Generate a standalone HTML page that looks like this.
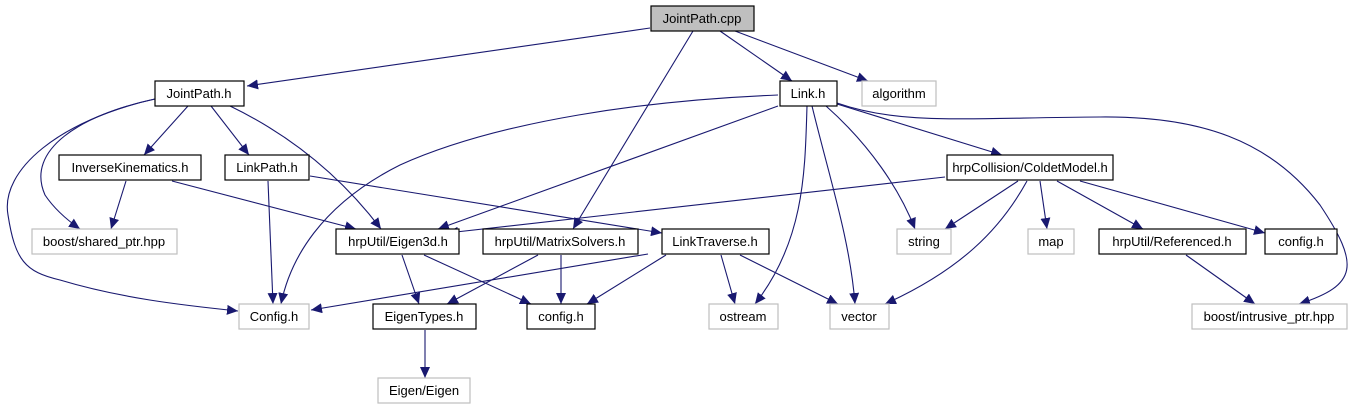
<!DOCTYPE html>
<html><head><meta charset="utf-8"><style>
html,body{margin:0;padding:0;background:#fff;}
svg{display:block;}
text{font-family:"Liberation Sans",sans-serif;font-size:13px;text-anchor:middle;fill:#000;}
.n{fill:#fff;stroke:#000;stroke-width:1.2;}
.g{fill:#fff;stroke:#bfbfbf;stroke-width:1.2;}
.e{fill:none;stroke:#191970;stroke-width:1.1;marker-end:url(#a);}
</style></head><body>
<svg width="1356" height="411" viewBox="0 0 1356 411" xmlns="http://www.w3.org/2000/svg">
<defs><marker id="a" markerUnits="userSpaceOnUse" markerWidth="12" markerHeight="10" refX="11" refY="5" orient="auto"><path d="M0,0 L11,5 L0,10 z" fill="#191970"/></marker></defs>
<path class="e" d="M650,28 L247,86"/>
<path class="e" d="M693,31 L573,229"/>
<path class="e" d="M720,31 L792,81"/>
<path class="e" d="M735,31 L868,81"/>
<path class="e" d="M188,106 L144,155"/>
<path class="e" d="M211,106 L249,155"/>
<path class="e" d="M230,106 C290,135 340,175 381,229"/>
<path class="e" d="M155,99 C80,115 25,150 45,195 C55,210 70,222 80,229"/>
<path class="e" d="M155,99 C60,120 0,170 8,215 C15,260 25,272 60,280 C120,298 180,305 238,311"/>
<path class="e" d="M126,181 L111,229"/>
<path class="e" d="M172,181 L356,229"/>
<path class="e" d="M268,181 L273,304"/>
<path class="e" d="M310,176 L662,233"/>
<path class="e" d="M778,95 C650,100 500,120 400,165 C320,205 290,260 281,304"/>
<path class="e" d="M778,106 L438,229"/>
<path class="e" d="M807,106 C805,170 805,240 755,304"/>
<path class="e" d="M812,106 C830,180 850,240 855,304"/>
<path class="e" d="M826,106 C870,145 900,190 915,229"/>
<path class="e" d="M837,104 L1002,155"/>
<path class="e" d="M837,103 C900,125 960,118 1100,117 C1200,116 1270,140 1320,205 C1360,265 1358,285 1299,304"/>
<path class="e" d="M945,177 L447,233"/>
<path class="e" d="M1018,181 L945,229"/>
<path class="e" d="M1027,181 C1000,230 960,270 885,304"/>
<path class="e" d="M1040,181 L1047,229"/>
<path class="e" d="M1057,181 L1143,229"/>
<path class="e" d="M1080,181 L1265,233"/>
<path class="e" d="M1186,255 L1255,304"/>
<path class="e" d="M402,255 L419,304"/>
<path class="e" d="M424,255 L531,304"/>
<path class="e" d="M538,255 L447,304"/>
<path class="e" d="M561,255 L561,304"/>
<path class="e" d="M648,254 L311,310"/>
<path class="e" d="M666,255 L587,304"/>
<path class="e" d="M721,255 L735,304"/>
<path class="e" d="M740,255 L838,304"/>
<path class="e" d="M425,330 L425,378"/>
<rect x="651" y="6" width="103" height="25" fill="#bfbfbf" stroke="#000" stroke-width="1.2"/><text x="702" y="23">JointPath.cpp</text>
<rect class="n" x="155" y="81" width="89" height="25"/><text x="199" y="98">JointPath.h</text>
<rect class="n" x="780" y="81" width="57" height="25"/><text x="808" y="98">Link.h</text>
<rect class="g" x="862" y="81" width="74" height="25"/><text x="899" y="98">algorithm</text>
<rect class="n" x="59" y="155" width="142" height="25"/><text x="130" y="172">InverseKinematics.h</text>
<rect class="n" x="225" y="155" width="84" height="25"/><text x="267" y="172">LinkPath.h</text>
<rect class="n" x="947" y="155" width="166" height="25"/><text x="1030" y="172">hrpCollision/ColdetModel.h</text>
<rect class="g" x="32" y="229" width="145" height="25"/><text x="104" y="246">boost/shared_ptr.hpp</text>
<rect class="n" x="336" y="229" width="123" height="25"/><text x="398" y="246">hrpUtil/Eigen3d.h</text>
<rect class="n" x="483" y="229" width="155" height="25"/><text x="560" y="246">hrpUtil/MatrixSolvers.h</text>
<rect class="n" x="662" y="229" width="107" height="25"/><text x="715" y="246">LinkTraverse.h</text>
<rect class="g" x="897" y="229" width="54" height="25"/><text x="924" y="246">string</text>
<rect class="g" x="1028" y="229" width="46" height="25"/><text x="1051" y="246">map</text>
<rect class="n" x="1099" y="229" width="147" height="25"/><text x="1172" y="246">hrpUtil/Referenced.h</text>
<rect class="n" x="1265" y="229" width="72" height="25"/><text x="1301" y="246">config.h</text>
<rect class="g" x="239" y="304" width="70" height="25"/><text x="274" y="321">Config.h</text>
<rect class="n" x="373" y="304" width="103" height="25"/><text x="424" y="321">EigenTypes.h</text>
<rect class="n" x="527" y="304" width="68" height="25"/><text x="561" y="321">config.h</text>
<rect class="g" x="709" y="304" width="69" height="25"/><text x="743" y="321">ostream</text>
<rect class="g" x="830" y="304" width="59" height="25"/><text x="859" y="321">vector</text>
<rect class="g" x="1192" y="304" width="155" height="25"/><text x="1269" y="321">boost/intrusive_ptr.hpp</text>
<rect class="g" x="378" y="378" width="92" height="25"/><text x="424" y="395">Eigen/Eigen</text>
</svg>
</body></html>
